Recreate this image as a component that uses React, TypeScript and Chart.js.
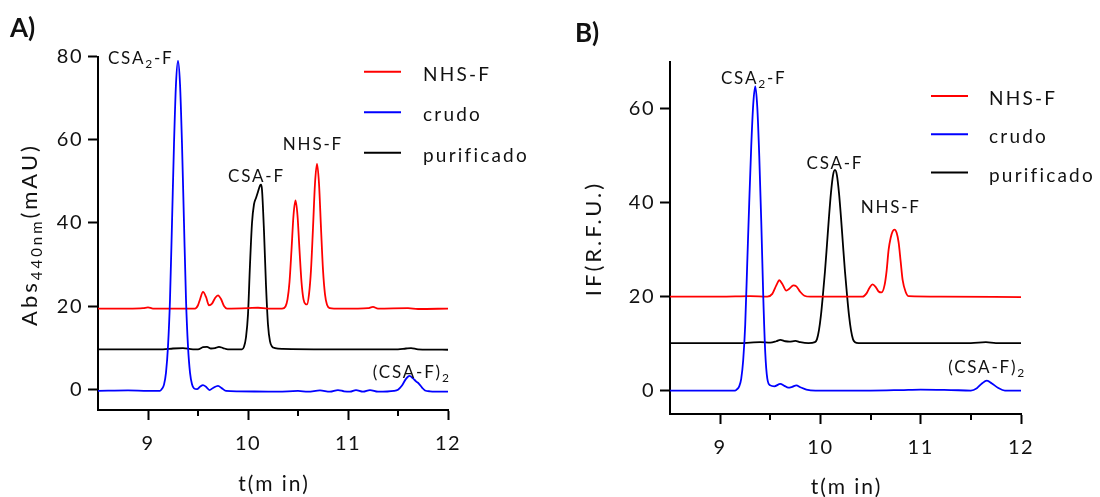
import React, { useEffect, useRef } from 'react';
import { Chart, registerables } from 'chart.js';
Chart.register(...registerables);

const FONT = 'Lato, "DejaVu Sans", sans-serif';
const TEXT = '#111111';

const seriesNames = ['NHS-F', 'crudo', 'purificado'];
const seriesColors = ['#ff0000', '#0000ff', '#000000'];

const xMajorTicks = [9, 10, 11, 12];
const xMinorTicks = [9.5, 10.5, 11.5];
const aYTicks = [0, 20, 40, 60, 80];
const bYTicks = [0, 20, 40, 60];

// ---------- Panel A: Abs 440 nm ----------
const aRedT = [8.5, 8.8, 8.95, 9.0, 9.05, 9.3, 9.47, 9.5, 9.52, 9.55, 9.58, 9.61, 9.64, 9.67, 9.7, 9.73, 9.76, 9.79, 10.0, 10.1, 10.2, 10.34, 10.375, 10.395, 10.415, 10.435, 10.455, 10.475, 10.495, 10.515, 10.535, 10.555, 10.575, 10.59, 10.61, 10.63, 10.65, 10.67, 10.69, 10.71, 10.73, 10.75, 10.77, 10.79, 10.82, 10.86, 11.1, 11.2, 11.25, 11.3, 11.6, 11.7, 12.0];
const aRedV = [19.4, 19.4, 19.5, 19.7, 19.4, 19.4, 19.4, 20.2, 21.6, 23.4, 22.2, 20.2, 20.6, 21.9, 22.6, 21.7, 20.0, 19.4, 19.5, 19.6, 19.4, 19.4, 19.9, 21.6, 25.8, 33.5, 41.8, 45.4, 41.8, 33.5, 25.8, 21.6, 20.5, 20.4, 22.8, 28.7, 38.8, 49.5, 54.2, 49.5, 38.8, 28.7, 22.8, 20.3, 19.5, 19.4, 19.4, 19.5, 19.8, 19.4, 19.5, 19.3, 19.4];

const aBlueT = [8.5, 8.8, 9.0, 9.12, 9.14, 9.16, 9.18, 9.2, 9.22, 9.24, 9.26, 9.28, 9.3, 9.32, 9.34, 9.36, 9.38, 9.4, 9.42, 9.44, 9.46, 9.49, 9.52, 9.55, 9.58, 9.615, 9.65, 9.7, 9.74, 9.78, 9.9, 10.3, 10.5, 10.6, 10.72, 10.82, 10.9, 10.96, 11.02, 11.08, 11.15, 11.22, 11.3, 11.46, 11.5, 11.54, 11.58, 11.615, 11.65, 11.68, 11.71, 11.74, 11.77, 11.82, 12.0];
const aBlueV = [-0.4, -0.3, -0.4, -0.4, 0.1, 1.1, 4.0, 10.3, 21.6, 40.0, 59.0, 73.5, 79.0, 73.5, 59.0, 40.0, 21.6, 10.3, 4.0, 1.2, 0.2, 0.0, 0.6, 1.0, 0.6, -0.2, 0.3, 0.8, 0.2, -0.4, -0.5, -0.6, -0.4, -0.6, -0.3, -0.6, -0.2, -0.5, -0.6, -0.2, -0.6, -0.2, -0.6, -0.4, -0.1, 0.9, 2.5, 3.2, 2.6, 1.9, 1.3, 0.4, -0.3, -0.5, -0.6];

const aBlackT = [8.5, 9.0, 9.15, 9.25, 9.35, 9.45, 9.5, 9.55, 9.59, 9.63, 9.67, 9.71, 9.75, 9.8, 9.94, 9.96, 9.98, 10.0, 10.02, 10.04, 10.06, 10.08, 10.1, 10.12, 10.13, 10.14, 10.16, 10.18, 10.2, 10.22, 10.24, 10.27, 10.35, 10.8, 11.5, 11.58, 11.63, 11.7, 12.0];
const aBlackV = [9.6, 9.6, 9.6, 9.8, 9.9, 9.6, 9.6, 10.1, 10.2, 9.8, 9.9, 10.2, 9.9, 9.6, 9.6, 10.2, 12.5, 18.0, 30.0, 40.0, 44.5, 46.0, 47.5, 49.0, 49.2, 48.0, 38.0, 25.0, 15.5, 11.5, 10.3, 9.9, 9.7, 9.6, 9.6, 9.8, 9.9, 9.6, 9.5];

// ---------- Panel B: fluorescence ----------
const bRedT = [8.5, 9.0, 9.3, 9.47, 9.52, 9.56, 9.59, 9.62, 9.66, 9.69, 9.73, 9.76, 9.8, 9.84, 9.9, 10.2, 10.42, 10.46, 10.49, 10.52, 10.55, 10.58, 10.61, 10.64, 10.66, 10.68, 10.7, 10.72, 10.74, 10.76, 10.78, 10.8, 10.82, 10.85, 10.88, 11.2, 12.0];
const bRedV = [20.0, 20.0, 20.1, 20.0, 20.6, 22.4, 23.5, 22.7, 21.3, 21.7, 22.4, 22.2, 21.0, 20.2, 20.0, 20.0, 20.0, 20.7, 21.9, 22.6, 22.1, 21.1, 20.9, 22.5, 25.5, 30.0, 32.5, 33.9, 34.3, 33.6, 31.5, 27.5, 23.5, 21.0, 20.1, 20.0, 19.9];

const bBlueT = [8.5, 9.0, 9.15, 9.17, 9.19, 9.21, 9.23, 9.25, 9.27, 9.29, 9.31, 9.33, 9.35, 9.37, 9.39, 9.41, 9.43, 9.45, 9.47, 9.5, 9.54, 9.6, 9.64, 9.68, 9.72, 9.76, 9.8, 9.86, 9.95, 10.5, 10.8, 11.0, 11.3, 11.5, 11.56, 11.61, 11.66, 11.71, 11.77, 11.84, 12.0];
const bBlueV = [0.0, 0.0, 0.0, 0.3, 0.9, 2.5, 6.5, 14.0, 27.0, 40.0, 52.0, 61.0, 64.8, 60.5, 50.0, 36.0, 20.0, 8.0, 2.6, 1.1, 0.9, 1.4, 1.0, 0.6, 0.8, 1.1, 0.7, 0.2, 0.0, 0.0, 0.1, 0.2, 0.1, 0.0, 0.5, 1.5, 2.1, 1.5, 0.6, 0.0, 0.0];

const bBlackT = [8.5, 9.2, 9.3, 9.4, 9.5, 9.56, 9.6, 9.65, 9.69, 9.75, 9.8, 9.88, 9.945, 9.965, 9.985, 10.005, 10.025, 10.045, 10.065, 10.085, 10.105, 10.125, 10.145, 10.165, 10.185, 10.205, 10.225, 10.245, 10.265, 10.285, 10.305, 10.325, 10.345, 10.38, 11.5, 11.65, 11.75, 12.0];
const bBlackV = [10.1, 10.1, 10.2, 10.3, 10.2, 10.5, 10.8, 10.5, 10.4, 10.6, 10.3, 10.1, 10.3, 10.9, 12.8, 16.0, 20.4, 25.3, 31.0, 36.9, 42.1, 45.8, 47.0, 45.8, 42.1, 36.9, 31.0, 25.3, 20.4, 16.0, 12.8, 10.9, 10.3, 10.1, 10.1, 10.3, 10.1, 10.1];

type Part = { t: string; sub?: boolean };

function fontStr(size: number, bold = false) {
  return (bold ? 'bold ' : '') + size + 'px ' + FONT;
}

function drawRich(ctx: CanvasRenderingContext2D, parts: Part[], x: number, y: number, align: 'left' | 'center' | 'right', size: number, subSize: number, spacing: number, subShift: number, bold = false) {
  ctx.save();
  (ctx as any).letterSpacing = spacing + 'px';
  ctx.textAlign = 'left';
  ctx.textBaseline = 'alphabetic';
  const widths = parts.map(p => {
    ctx.font = fontStr(p.sub ? subSize : size, bold);
    return ctx.measureText(p.t).width;
  });
  const total = widths.reduce((a, b) => a + b, 0) - spacing;
  let cx = align === 'center' ? x - total / 2 : align === 'right' ? x - total : x;
  parts.forEach((p, i) => {
    ctx.font = fontStr(p.sub ? subSize : size, bold);
    ctx.fillText(p.t, cx, y + (p.sub ? subShift : 0));
    cx += widths[i];
  });
  ctx.restore();
}

interface Annot { parts: Part[]; x: number; y: number }
interface DecorCfg {
  panel: string; panelX: number; panelY: number;
  yTitle: Part[]; yTitleX: number; yTitleY: number;
  xTitle: string; xTitleY: number;
  legLineX0: number; legLineX1: number; legTextX: number; legY0: number; legDy: number;
  annots: Annot[];
}

const decorPlugin = {
  id: 'decor',
  beforeDraw(chart: any) {
    (chart.ctx as any).letterSpacing = '1.5px';
  },
  afterDraw(chart: any, _args: any, opts: DecorCfg) {
    const ctx: CanvasRenderingContext2D = chart.ctx;
    const xs = chart.scales.x;
    const ys = chart.scales.y;
    const ca = chart.chartArea;
    ctx.save();
    ctx.fillStyle = TEXT;
    // minor ticks
    ctx.strokeStyle = '#000';
    ctx.lineWidth = 2;
    xMinorTicks.forEach(v => {
      const px = Math.round(xs.getPixelForValue(v));
      ctx.beginPath();
      ctx.moveTo(px, ca.bottom);
      ctx.lineTo(px, ca.bottom + 6);
      ctx.stroke();
    });
    // panel label
    drawRich(ctx, [{ t: opts.panel }], opts.panelX, opts.panelY, 'left', 26, 26, 0, 0, true);
    // x title
    drawRich(ctx, [{ t: opts.xTitle }], (ca.left + ca.right) / 2, opts.xTitleY, 'center', 21, 21, 2, 0);
    // y title (rotated)
    ctx.save();
    ctx.translate(opts.yTitleX, opts.yTitleY);
    ctx.rotate(-Math.PI / 2);
    drawRich(ctx, opts.yTitle, 0, 0, 'center', 22, 15, 3, 5);
    ctx.restore();
    // legend
    seriesNames.forEach((name, i) => {
      const y = opts.legY0 + i * opts.legDy;
      ctx.strokeStyle = seriesColors[i];
      ctx.lineWidth = 2;
      ctx.beginPath();
      ctx.moveTo(opts.legLineX0, y);
      ctx.lineTo(opts.legLineX1, y);
      ctx.stroke();
      drawRich(ctx, [{ t: name }], opts.legTextX, y + 9, 'left', 19, 19, 2.2, 0);
    });
    // annotations
    opts.annots.forEach(a => {
      const px = xs.getPixelForValue(a.x);
      const py = ys.getPixelForValue(a.y);
      drawRich(ctx, a.parts, px, py + 6, 'center', 17, 12, 1.8, 4);
    });
    ctx.restore();
  },
};

function mk(t: number[], v: number[]) {
  return t.map((x, i) => ({ x, y: v[i] }));
}

interface PanelDef {
  red: { x: number; y: number }[];
  blue: { x: number; y: number }[];
  black: { x: number; y: number }[];
  yMax: number; yTicks: number[];
  pad: { top: number; right: number };
  yW: number; xH: number;
  decor: DecorCfg;
}

function buildConfig(p: PanelDef): any {
  const ds = (label: string, data: any, color: string) => ({
    label, data, borderColor: color, backgroundColor: color, borderWidth: 1.8,
    pointRadius: 0, fill: false, cubicInterpolationMode: 'monotone', showLine: true,
  });
  return {
    type: 'line',
    data: {
      datasets: [
        ds(seriesNames[1], p.blue, seriesColors[1]),
        ds(seriesNames[0], p.red, seriesColors[0]),
        ds(seriesNames[2], p.black, seriesColors[2]),
      ],
    },
    plugins: [decorPlugin],
    options: {
      responsive: false,
      maintainAspectRatio: false,
      animation: false,
      events: [],
      layout: { padding: { left: 0, top: p.pad.top, right: p.pad.right, bottom: 0 } },
      plugins: { legend: { display: false }, tooltip: { enabled: false }, title: { display: false }, decor: p.decor },
      scales: {
        x: {
          type: 'linear', min: 8.5, max: 12,
          afterBuildTicks: (s: any) => { s.ticks = xMajorTicks.map(v => ({ value: v })); },
          afterFit: (s: any) => { s.height = p.xH; },
          grid: { drawOnChartArea: false, drawTicks: true, tickLength: 10, tickWidth: 2, tickColor: '#000', color: '#000' },
          border: { display: true, color: '#000', width: 2 },
          ticks: { autoSkip: false, maxRotation: 0, padding: 12, color: TEXT, font: { family: FONT, size: 20 } },
        },
        y: {
          type: 'linear', min: -5, max: p.yMax,
          afterBuildTicks: (s: any) => { s.ticks = p.yTicks.map(v => ({ value: v })); },
          afterFit: (s: any) => { s.width = p.yW; },
          grid: { drawOnChartArea: false, drawTicks: true, tickLength: 10, tickWidth: 2, tickColor: '#000', color: '#000' },
          border: { display: true, color: '#000', width: 2 },
          ticks: { padding: 5, color: TEXT, font: { family: FONT, size: 20 } },
        },
      },
    },
  };
}

const panelA: PanelDef = {
  red: mk(aRedT, aRedV), blue: mk(aBlueT, aBlueV), black: mk(aBlackT, aBlackV),
  yMax: 80, yTicks: aYTicks,
  pad: { top: 56.7, right: 102 }, yW: 98, xH: 87,
  decor: {
    panel: 'A)', panelX: 10, panelY: 37,
    yTitle: [{ t: 'Abs' }, { t: '440nm', sub: true }, { t: '(mAU)' }], yTitleX: 37, yTitleY: 236,
    xTitle: 't(m in)', xTitleY: 491,
    legLineX0: 364, legLineX1: 401, legTextX: 423, legY0: 71.7, legDy: 40.5,
    annots: [
      { parts: [{ t: 'CSA' }, { t: '2', sub: true }, { t: '-F' }], x: 8.918, y: 79.6 },
      { parts: [{ t: 'CSA-F' }], x: 10.076, y: 51.2 },
      { parts: [{ t: 'NHS-F' }], x: 10.64, y: 58.9 },
      { parts: [{ t: '(CSA-F)' }, { t: '2', sub: true }], x: 11.628, y: 4.2 },
    ],
  },
};

const panelB: PanelDef = {
  red: mk(bRedT, bRedV), blue: mk(bBlueT, bBlueV), black: mk(bBlackT, bBlackV),
  yMax: 70, yTicks: bYTicks,
  pad: { top: 62, right: 79 }, yW: 120, xH: 83,
  decor: {
    panel: 'B)', panelX: 25, panelY: 42,
    yTitle: [{ t: 'IF(R.F.U.)' }], yTitleX: 50.7, yTitleY: 240,
    xTitle: 't(m in)', xTitleY: 494,
    legLineX0: 381, legLineX1: 418, legTextX: 439, legY0: 96, legDy: 38.3,
    annots: [
      { parts: [{ t: 'CSA' }, { t: '2', sub: true }, { t: '-F' }], x: 9.3256, y: 66.5 },
      { parts: [{ t: 'CSA-F' }], x: 10.135, y: 48.5 },
      { parts: [{ t: 'NHS-F' }], x: 10.692, y: 39.0 },
      { parts: [{ t: '(CSA-F)' }, { t: '2', sub: true }], x: 11.653, y: 5.07 },
    ],
  },
};

export default function App() {
  const refA = useRef<HTMLCanvasElement>(null);
  const refB = useRef<HTMLCanvasElement>(null);
  useEffect(() => {
    const ca = new Chart(refA.current as HTMLCanvasElement, buildConfig(panelA));
    const cb = new Chart(refB.current as HTMLCanvasElement, buildConfig(panelB));
    return () => { ca.destroy(); cb.destroy(); };
  }, []);
  return (
    <div style={{ position: 'fixed', left: 0, top: 0, width: 1100, height: 497, background: '#ffffff', overflow: 'hidden' }}>
      <canvas ref={refA} width={550} height={497} style={{ position: 'absolute', left: 0, top: 0, width: 550, height: 497 }} />
      <canvas ref={refB} width={550} height={497} style={{ position: 'absolute', left: 550, top: 0, width: 550, height: 497 }} />
    </div>
  );
}
